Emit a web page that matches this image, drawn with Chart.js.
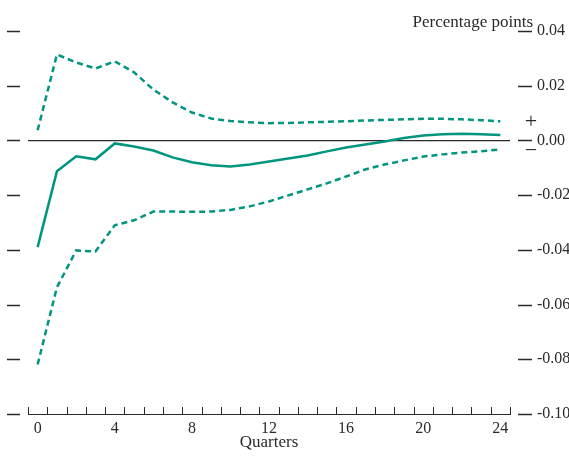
<!DOCTYPE html>
<html>
<head>
<meta charset="utf-8">
<script src="https://cdn.jsdelivr.net/npm/chart.js@4.4.1/dist/chart.umd.min.js"></script>
<style>
  html, body { margin: 0; padding: 0; background: #fff; }
  #wrap { width: 569px; height: 458px; }
</style>
</head>
<body>
<div id="wrap"><canvas id="chart" width="569" height="458"></canvas></div>
<script>
// quarters after the shock
const quarters = Array.from({ length: 25 }, (_, i) => String(i));

// point estimate (solid) and confidence band (dashed), percentage points
const estimate = [-0.0390, -0.0113, -0.0058, -0.0069, -0.0011, -0.0022, -0.0037, -0.0062, -0.0080,
  -0.0091, -0.0095, -0.0088, -0.0077, -0.0066, -0.0055, -0.0040, -0.0026, -0.0015, -0.0004,
  0.0009, 0.0018, 0.0023, 0.0024, 0.0023, 0.0020];
const upperBand = [0.0037, 0.0314, 0.0285, 0.0263, 0.0289, 0.0249, 0.0186, 0.0139, 0.0102,
  0.0080, 0.0071, 0.0066, 0.0063, 0.0064, 0.0066, 0.0068, 0.0070, 0.0073, 0.0075,
  0.0077, 0.0079, 0.0079, 0.0077, 0.0074, 0.0070];
const lowerBand = [-0.0819, -0.0537, -0.0402, -0.0406, -0.0310, -0.0292, -0.0260, -0.0260, -0.0261,
  -0.0260, -0.0254, -0.0241, -0.0223, -0.0201, -0.0179, -0.0157, -0.0132, -0.0106, -0.0088,
  -0.0073, -0.0059, -0.0051, -0.0044, -0.0040, -0.0033];

const yTicks = [0.04, 0.02, 0.00, -0.02, -0.04, -0.06, -0.08, -0.10];
const xLabelEvery = 4;

const TEAL = '#00957f';
const INK = '#2a2a2a';
const SERIF = '"Liberation Serif", "DejaVu Serif", serif';

// extra marks: outer tick dashes, inward x ticks, unit label, +/- signs
const decorations = {
  id: 'decorations',
  afterDraw(chart) {
    const ctx = chart.ctx;
    const x = chart.scales.x;
    const y = chart.scales.y;
    ctx.save();
    ctx.strokeStyle = INK;
    ctx.lineWidth = 1.4;
    // horizontal dashes on both sides for each y tick
    yTicks.forEach(v => {
      const yp = Math.round(y.getPixelForValue(v)) + 0.5;
      ctx.beginPath();
      ctx.moveTo(7, yp); ctx.lineTo(20, yp);
      ctx.moveTo(518, yp); ctx.lineTo(532, yp);
      ctx.stroke();
    });
    // x tick marks at category boundaries, pointing up
    const step = x.getPixelForValue(1) - x.getPixelForValue(0);
    const base = y.getPixelForValue(-0.10);
    ctx.lineWidth = 1;
    for (let i = 0; i <= quarters.length; i++) {
      const xp = Math.round(x.getPixelForValue(0) - step / 2 + i * step) + 0.5;
      ctx.beginPath();
      ctx.moveTo(xp, base); ctx.lineTo(xp, base - 7);
      ctx.stroke();
    }
    ctx.fillStyle = INK;
    ctx.font = '17px ' + SERIF;
    ctx.textAlign = 'right';
    ctx.textBaseline = 'alphabetic';
    ctx.fillText('Percentage points', 533, 27);
    ctx.font = '22px ' + SERIF;
    ctx.textAlign = 'center';
    ctx.textBaseline = 'middle';
    const zero = y.getPixelForValue(0);
    ctx.fillText('+', 531, zero - 18);
    ctx.fillText('\u2212', 531, zero + 11);
    ctx.restore();
  }
};

new Chart(document.getElementById('chart'), {
  type: 'line',
  data: {
    labels: quarters,
    datasets: [
      { label: 'Upper', data: upperBand, borderColor: TEAL, borderWidth: 2.5, borderDash: [6, 4], pointRadius: 0, tension: 0 },
      { label: 'Estimate', data: estimate, borderColor: TEAL, borderWidth: 2.5, pointRadius: 0, tension: 0 },
      { label: 'Lower', data: lowerBand, borderColor: TEAL, borderWidth: 2.5, borderDash: [6, 4], pointRadius: 0, tension: 0 }
    ]
  },
  options: {
    responsive: false,
    animation: false,
    layout: { padding: { top: 31, left: 28, right: 0, bottom: 0 } },
    plugins: { legend: { display: false }, tooltip: { enabled: false } },
    scales: {
      x: {
        offset: true,
        afterFit: s => { s.height = 44; },
        grid: { display: false, drawTicks: false, offset: true },
        border: { display: true, color: INK, width: 1 },
        ticks: {
          autoSkip: false, maxRotation: 0, padding: 5,
          color: INK, font: { family: SERIF, size: 16 },
          callback: (v, i) => (i % xLabelEvery === 0 ? quarters[i] : '')
        },
        title: { display: true, text: 'Quarters', color: INK, font: { family: SERIF, size: 17 }, padding: { top: 0, bottom: 5 } }
      },
      y: {
        position: 'right',
        min: -0.10, max: 0.04,
        afterFit: s => { s.width = 59; s.paddingTop = 0; s.paddingBottom = 0; },
        afterBuildTicks: s => { s.ticks = yTicks.map(v => ({ value: v })); },
        border: { display: false },
        grid: {
          drawTicks: false,
          lineWidth: 1.2,
          color: c => (c.tick && Math.abs(c.tick.value) < 1e-9 ? INK : 'rgba(0,0,0,0)')
        },
        ticks: {
          padding: 27, color: INK, font: { family: SERIF, size: 16 },
          callback: v => v.toFixed(2)
        }
      }
    }
  },
  plugins: [decorations]
});
</script>
</body>
</html>
